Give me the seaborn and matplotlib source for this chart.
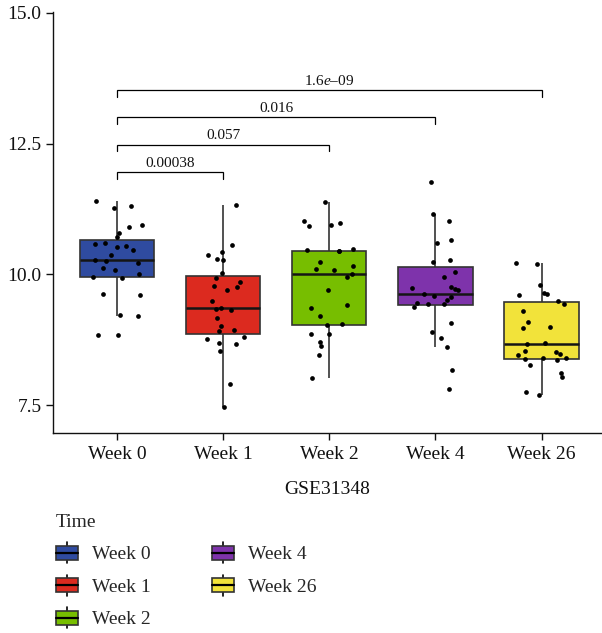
import numpy as np
import pandas as pd
import matplotlib
matplotlib.use("Agg")
import matplotlib.pyplot as plt
import seaborn as sns
from matplotlib.patches import Rectangle, Patch
from matplotlib.lines import Line2D
from matplotlib.legend_handler import HandlerBase

# ---- data -------------------------------------------------------------
weeks = ["Week 0", "Week 1", "Week 2", "Week 4", "Week 26"]
box_colors = ["#2F4BA0", "#DC2A1F", "#77BE00", "#7E33AB", "#F2E33A"]

week0 = [11.40, 11.31, 11.26, 10.90, 10.94, 10.79, 10.72, 10.57, 10.59, 10.53,
         10.54, 10.47, 10.37, 10.27, 10.25, 10.22, 10.12, 10.08, 10.00, 9.95,
         9.93, 9.61, 9.63, 9.22, 9.20, 8.83, 8.83]
week1 = [11.32, 10.56, 10.42, 10.36, 10.28, 10.29, 10.03, 9.92, 9.86, 9.76,
         9.77, 9.69, 9.49, 9.35, 9.33, 9.31, 9.17, 9.02, 8.94, 8.92,
         8.81, 8.77, 8.66, 8.69, 8.54, 7.90, 7.47]
week2 = [11.38, 11.01, 10.93, 10.99, 10.94, 10.44, 10.49, 10.44, 10.46, 10.24,
         10.08, 10.10, 10.16, 10.01, 9.94, 9.69, 9.42, 9.35, 9.21, 9.03,
         9.04, 8.86, 8.86, 8.62, 8.71, 8.45, 8.01]
week4 = [11.76, 11.15, 11.01, 10.65, 10.59, 10.23, 10.27, 10.04, 9.94, 9.76,
         9.69, 9.74, 9.72, 9.62, 9.58, 9.56, 9.51, 9.46, 9.44, 9.37,
         9.44, 9.06, 8.90, 8.79, 8.60, 8.17, 7.81]
week26 = [10.21, 10.19, 9.79, 9.61, 9.65, 9.62, 9.49, 9.44, 9.30, 9.09,
          9.00, 8.97, 8.66, 8.68, 8.53, 8.52, 8.48, 8.46, 8.40, 8.36,
          8.39, 8.27, 8.38, 8.11, 8.04, 7.74, 7.70]

# pairwise comparisons against Week 0 (group a, group b, p-value label, bracket height)
comp_a = ["Week 0", "Week 0", "Week 0", "Week 0"]
comp_b = ["Week 1", "Week 2", "Week 4", "Week 26"]
comp_p = ["0.00038", "0.057", "0.016", "1.6$\\it{e}$\u201309"]
comp_y = [11.96, 12.48, 13.01, 13.52]

y_ticks = [7.5, 10.0, 12.5, 15.0]

# ---- style ------------------------------------------------------------
sns.set_theme(style="ticks")
plt.rcParams["font.family"] = ["Liberation Serif", "DejaVu Serif"]
plt.rcParams["mathtext.fontset"] = "custom"
plt.rcParams["mathtext.rm"] = "Liberation Serif"
plt.rcParams["mathtext.it"] = "Liberation Serif:italic"

EDGE = "#333333"

df = pd.DataFrame({
    "Time": np.repeat(weeks, [len(week0), len(week1), len(week2), len(week4), len(week26)]),
    "value": np.concatenate([week0, week1, week2, week4, week26]),
})

fig = plt.figure(figsize=(6.02, 6.33), dpi=100)
ax = fig.add_axes([0.0875, 0.3164, 0.9125, 0.665])

sns.boxplot(data=df, x="Time", y="value", hue="Time", order=weeks, hue_order=weeks,
            palette=box_colors, width=0.7, showfliers=False, showcaps=False,
            linecolor=EDGE, linewidth=1.2, legend=False, saturation=1,
            medianprops={"color": "#151515", "linewidth": 1.8}, ax=ax)

np.random.seed(7)
sns.stripplot(data=df, x="Time", y="value", order=weeks, color="black",
              size=3.4, jitter=0.24, linewidth=0, ax=ax, zorder=5)

# significance brackets
pos = {w: i for i, w in enumerate(weeks)}
tick_h = 0.13
for a, b, lab, yb in zip(comp_a, comp_b, comp_p, comp_y):
    xa, xb = pos[a], pos[b]
    ax.plot([xa, xa, xb, xb], [yb - tick_h, yb, yb, yb - tick_h],
            color="black", lw=0.9, solid_joinstyle="miter", clip_on=False)
    ax.text((xa + xb) / 2, yb + 0.1, lab, ha="center", va="baseline",
            fontsize=11, color="#111111")

ax.set_xlim(-0.608, 4.57)
ax.set_ylim(6.97, 15.02)
ax.set_yticks(y_ticks)
ax.set_yticklabels([f"{t:.1f}" for t in y_ticks])
ax.set_xlabel("GSE31348", fontsize=14, labelpad=13, color="#111111")
ax.set_ylabel("")
ax.tick_params(axis="both", labelsize=14, length=5, width=1.0, color="#111111",
               labelcolor="#111111", pad=3)
ax.tick_params(axis="x", pad=4.5)
for side in ["top", "right"]:
    ax.spines[side].set_visible(False)
for side in ["left", "bottom"]:
    ax.spines[side].set_linewidth(1.0)
    ax.spines[side].set_color("#111111")


# legend keys drawn as miniature boxplots
class BoxKeyHandler(HandlerBase):
    def create_artists(self, legend, orig_handle, xdescent, ydescent,
                       width, height, fontsize, trans):
        x0, y0 = -xdescent, -ydescent
        cx = x0 + width / 2
        cy = y0 + height / 2
        bh = height * 0.66
        w_lo = Line2D([cx, cx], [y0, cy - bh / 2], color="black", lw=1.2, transform=trans)
        w_hi = Line2D([cx, cx], [cy + bh / 2, y0 + height], color="black", lw=1.2, transform=trans)
        box = Rectangle((x0, cy - bh / 2), width, bh,
                        facecolor=orig_handle.get_facecolor(), edgecolor=EDGE,
                        linewidth=1.2, transform=trans)
        med = Line2D([x0, x0 + width], [cy, cy], color="black", lw=1.6, transform=trans)
        return [w_lo, w_hi, box, med]


handles = [Patch(facecolor=c, label=w) for c, w in zip(box_colors, weeks)]
leg = fig.legend(handles=handles, labels=weeks, title="Time", ncol=2,
                 loc="upper left", bbox_to_anchor=(55.7 / 602, 1 - 514 / 633),
                 frameon=False, fontsize=14, title_fontsize=14,
                 handler_map={Patch: BoxKeyHandler()},
                 handlelength=1.16, handleheight=1.3, handletextpad=0.69,
                 labelspacing=0.58, columnspacing=3.15, borderpad=0,
                 borderaxespad=0, alignment="left")

fig.savefig("out.png", dpi=100)
